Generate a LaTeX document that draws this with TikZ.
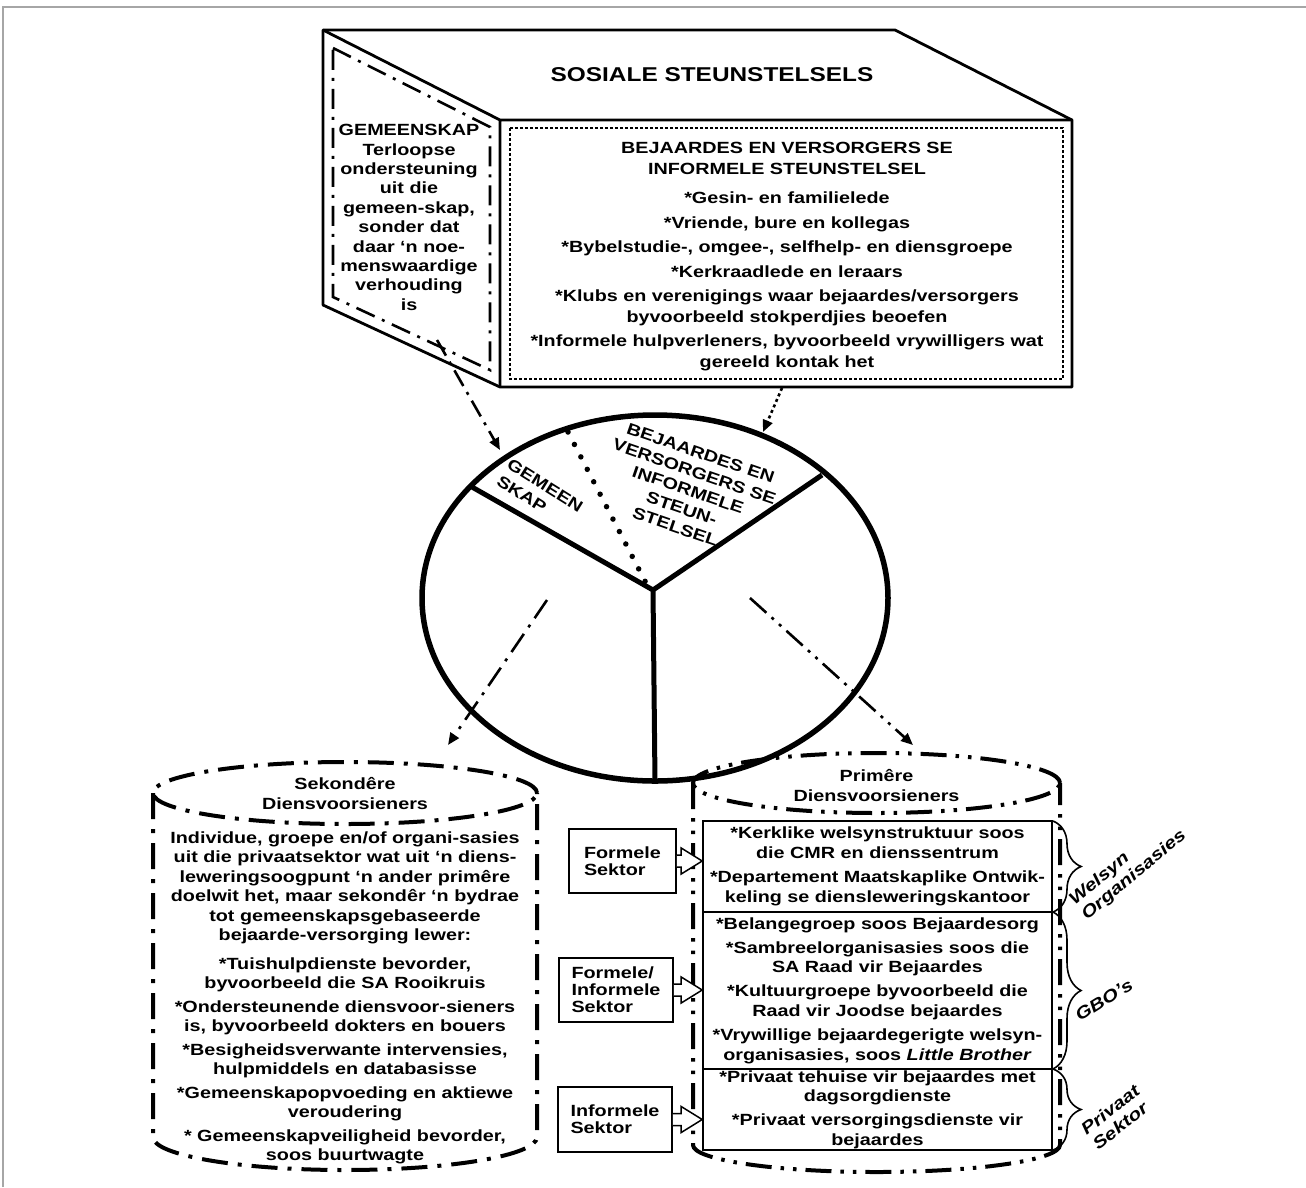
\documentclass[tikz,border=0pt]{standalone}
\usepackage{fontspec}
\setmainfont{Liberation Sans}[FakeStretch=1.22]
\usetikzlibrary{arrows.meta,decorations.pathreplacing,shapes.geometric,calc,positioning}
\tikzstyle{body}=[align=center, inner sep=0pt, font=\bfseries\fontsize{16.2}{19.5}\selectfont]
\tikzstyle{sector}=[rectangle, draw, line width=1.8pt, inner sep=0pt, align=left, font=\bfseries\fontsize{16.2}{17}\selectfont]
\tikzstyle{tablerow}=[rectangle, draw, line width=1.6pt, minimum width=349pt, inner sep=0pt, align=center, font=\bfseries\fontsize{16.2}{19.8}\selectfont]
\tikzstyle{dashdot}=[dash pattern=on 26pt off 10pt on 4pt off 10pt]
\tikzstyle{dashdotdot}=[dash pattern=on 26pt off 9pt on 3.5pt off 9pt on 3.5pt off 9pt]
\tikzstyle{flow}=[line width=2.6pt, -{Triangle[length=12pt, width=10pt]}]
\tikzstyle{bracelabel}=[align=left, inner sep=0pt, font=\bfseries\itshape\fontsize{17}{19}\selectfont]
\newcommand{\hollowarrow}[2]{%
  \draw[line width=1.5pt, fill=white] let \p1=(#1.east), \p2=(#2) in
    (\x1,\y1+6pt) -- (\x2-21pt,\y1+6pt) -- (\x2-21pt,\y1+13pt) -- (\x2,\y1)
    -- (\x2-21pt,\y1-13pt) -- (\x2-21pt,\y1-6pt) -- (\x1,\y1-6pt);}

\begin{document}
\begin{tikzpicture}[x=1pt, y=-1pt, thick]
\useasboundingbox (0,0) rectangle (1306,1187);
\draw[gray!70, line width=1.5pt] (3,1187) -- (3,7) -- (1306,7);

\draw[line width=2.8pt, line join=round] (323,30) -- (895,30) -- (1072,120) -- (1072,387) -- (500,387) -- (323,305) -- cycle;
\draw[line width=2.8pt] (323,30) -- (500,120) -- (1072,120) (500,120) -- (500,387);
\draw[line width=2.6pt, dash pattern=on 20pt off 8pt on 3pt off 8pt] (333,48) -- (490,127) -- (490,370) -- (333,297) -- cycle;
\draw[line width=2.6pt, dash pattern=on 2.6pt off 2.4pt] (510,128) rectangle (1063,379);

\node[body, font=\bfseries\fontsize{20}{24}\selectfont] (11) at (712,75) {SOSIALE STEUNSTELSELS};
\node[body, anchor=north, font=\bfseries\fontsize{16.2}{20.5}\selectfont] (12) at (787,142) {BEJAARDES EN VERSORGERS SE\\INFORMELE STEUNSTELSEL\\[9pt]
  *Gesin- en familielede\\[4pt]
  *Vriende, bure en kollegas\\[4pt]
  *Bybelstudie-, omgee-, selfhelp- en diensgroepe\\[4pt]
  *Kerkraadlede en leraars\\[4pt]
  *Klubs en verenigings waar bejaardes/versorgers\\
  byvoorbeeld stokperdjies beoefen\\[4pt]
  *Informele hulpverleners, byvoorbeeld vrywilligers wat\\
  gereeld kontak het};
\node[body, anchor=north, font=\bfseries\fontsize{16.2}{19.4}\selectfont] (13) at (409,124) {GEMEENSKAP\\Terloopse\\ondersteuning\\uit die\\gemeen-skap,\\sonder dat\\daar ‘n noe-\\menswaardige\\verhouding\\is};

\node[ellipse, draw, line width=5.5pt, minimum width=466pt, minimum height=366pt, inner sep=0pt] (20) at (655,598) {};
\coordinate (21) at (653,590);
\coordinate (22) at (472,487);
\coordinate (23) at (822,475);
\coordinate (24) at (655,782);
\draw[line width=5pt] (22) -- (21) -- (23) (21) -- (24);
\coordinate (25) at (568,432);
\coordinate (26) at (647,585);
\draw[line width=5.5pt, line cap=round, dash pattern=on 0pt off 14pt] (25) -- (26);
\node[body, align=left, rotate=-32] (27) at (540,494) {GEMEEN\\SKAP};
\node[body, rotate=-19] (28) at (688,490) {BEJAARDES EN\\VERSORGERS SE\\INFORMELE\\STEUN-\\STELSEL};

\coordinate (15) at (437,340);
\coordinate (16) at (500,450);
\coordinate (17) at (782,388);
\coordinate (18) at (763,432);
\draw[flow, dash pattern=on 18pt off 7pt on 3pt off 7pt] (15) -- (16);
\draw[flow, dash pattern=on 3pt off 3pt] (17) -- (18);

\draw[line width=4pt, dashdot] (345,793) ellipse [x radius=192pt, y radius=31pt];
\draw[line width=4pt, dashdot] (153,793) -- (153,1137) arc[start angle=180, end angle=360, x radius=192pt, y radius=33pt] -- (537,793);
\node[body, anchor=north] (31) at (345,777) {Sekondêre\\Diensvoorsieners};
\node[body, anchor=north] (32) at (345,831) {Individue, groepe en/of organi-sasies\\
  uit die privaatsektor wat uit ‘n diens-\\
  leweringsoogpunt ‘n ander primêre\\
  doelwit het, maar sekondêr ‘n bydrae\\
  tot gemeenskapsgebaseerde\\
  bejaarde-versorging lewer:\\[9pt]
  *Tuishulpdienste bevorder,\\
  byvoorbeeld die SA Rooikruis\\[4pt]
  *Ondersteunende diensvoor-sieners\\
  is, byvoorbeeld dokters en bouers\\[4pt]
  *Besigheidsverwante intervensies,\\
  hulpmiddels en databasisse\\[4pt]
  *Gemeenskapopvoeding en aktiewe\\
  veroudering\\[4pt]
  * Gemeenskapveiligheid bevorder,\\
  soos buurtwagte};

\draw[line width=4pt, dashdotdot] (876.5,783) ellipse [x radius=183.5pt, y radius=30pt];
\draw[line width=4pt, dashdotdot] (693,783) -- (693,1145) arc[start angle=180, end angle=360, x radius=183.5pt, y radius=27pt] -- (1060,783);
\node[body, anchor=north] (33) at (876.5,769) {Primêre\\Diensvoorsieners};

\coordinate (34) at (547,600);
\coordinate (35) at (448,745);
\coordinate (36) at (750,598);
\coordinate (37) at (913,745);
\draw[flow, dash pattern=on 22pt off 8pt on 3pt off 8pt] (34) -- (35);
\draw[flow, dash pattern=on 22pt off 7pt on 3pt off 7pt on 3pt off 7pt] (36) -- (37);

\node[tablerow, minimum height=91pt] (51) at (877.5,866.5) {*Kerklike welsynstruktuur soos\\die CMR en dienssentrum\\[4pt]
  *Departement Maatskaplike Ontwik-\\keling se diensleweringskantoor};
\node[tablerow, minimum height=157pt] (52) at (877.5,990.5) {*Belangegroep soos Bejaardesorg\\[4pt]
  *Sambreelorganisasies soos die\\SA Raad vir Bejaardes\\[4pt]
  *Kultuurgroepe byvoorbeeld die\\Raad vir Joodse bejaardes\\[4pt]
  *Vrywillige bejaardegerigte welsyn-\\organisasies, soos \textit{Little Brother}};
\node[tablerow, minimum height=81pt] (53) at (877.5,1109.5) {*Privaat tehuise vir bejaardes met\\dagsorgdienste\\[4pt]
  *Privaat versorgingsdienste vir\\bejaardes};

\node[sector, minimum width=107pt, minimum height=64pt] (41) at (622.5,861) {Formele\\Sektor};
\node[sector, minimum width=114pt, minimum height=64pt] (42) at (616,990) {Formele/\\Informele\\Sektor};
\node[sector, minimum width=114pt, minimum height=65pt] (43) at (615,1119.5) {Informele\\Sektor};
\hollowarrow{41}{51.west |- 41.east}
\hollowarrow{42}{52.west |- 42.east}
\hollowarrow{43}{53.west |- 43.east}

\draw[line width=1.6pt, decorate, decoration={brace, amplitude=28pt}] (1053,821) -- (1053,912);
\draw[line width=1.6pt, decorate, decoration={brace, amplitude=28pt}] (1053,912) -- (1053,1069);
\draw[line width=1.6pt, decorate, decoration={brace, amplitude=28pt}] (1053,1069) -- (1053,1150);
\node[bracelabel, rotate=40] (61) at (1128,868) {Welsyn\\Organisasies};
\node[bracelabel, rotate=32] (62) at (1104,1000) {GBO’s};
\node[bracelabel, rotate=38] (63) at (1116,1117) {Privaat\\Sektor};
\end{tikzpicture}
\end{document}
